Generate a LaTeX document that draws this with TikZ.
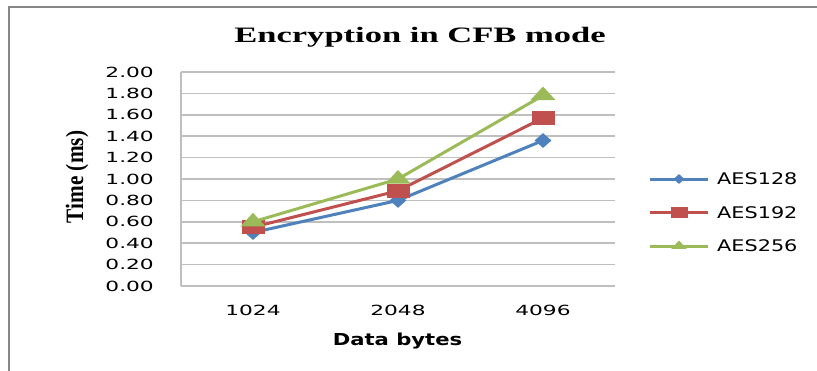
\documentclass[tikz,border=0pt]{standalone}
\usepackage{fontspec}
\setmainfont{Liberation Serif}
\newfontfamily\tickfont[FakeStretch=1.55]{DejaVu Sans}
\newfontfamily\legfont[FakeStretch=1.3]{DejaVu Sans}
\newfontfamily\xtitlefont[FakeStretch=1.28]{DejaVu Sans Bold}
\newfontfamily\titlefont[FakeStretch=1.57]{Liberation Serif Bold}
\newfontfamily\ytitlefont[FakeStretch=0.85]{Liberation Serif Bold}
\usepackage{tikz}
\usetikzlibrary{
arrows.meta,
positioning,
shapes.geometric
}
\definecolor{aesblue}{HTML}{4F81BD}
\definecolor{aesred}{HTML}{C0504D}
\definecolor{aesgreen}{HTML}{9BBB59}
\definecolor{gridgray}{HTML}{BFBFBF}
\definecolor{framegray}{HTML}{878787}

\begin{document}
\begin{tikzpicture}[
  x=1pt, y=-1pt,
  series/.style={line width=3pt, line join=round},
  grid/.style={draw=gridgray, line width=1.6pt},
  tick/.style={font=\tickfont\fontsize{14}{16}\selectfont, inner sep=0pt},
  legtext/.style={font=\legfont\fontsize{16}{18}\selectfont, anchor=west, inner sep=0pt},
  dmark/.style={diamond, fill=aesblue, inner sep=0pt, minimum width=17pt, minimum height=15pt},
  smark/.style={rectangle, fill=aesred, inner sep=0pt, minimum width=23pt, minimum height=14pt},
  tmark/.style={regular polygon, regular polygon sides=3, fill=aesgreen, inner sep=0pt,
                minimum size=18pt, xscale=1.6, transform shape}
]
\useasboundingbox (0,0) rectangle (817,370);
\fill[white] (0,0) rectangle (817,370);

%% Frame of the chart
\draw[framegray, line width=2pt] (9,372) -- (9,7) -- (819,7);

%% Title
\node[font=\titlefont\fontsize{22}{24}\selectfont, anchor=base] (title) at (420,42.5)
  {Encryption in CFB mode};

%% Grid and value axis
\foreach \i/\lab in {0/0.00, 1/0.20, 2/0.40, 3/0.60, 4/0.80, 5/1.00,
                     6/1.20, 7/1.40, 8/1.60, 9/1.80, 10/2.00} {
  \pgfmathsetmacro\gy{286-\i*21.4}
  \draw[grid] (181,\gy) -- (615,\gy);
  \node[tick, anchor=east] (ylab\i) at (154,\gy) {\lab};
}
\draw[grid] (181,72) -- (181,286);

%% Category axis
\foreach \xc/\lab in {253/1024, 398/2048, 543/4096}
  \node[tick] (xlab\lab) at (\xc,310.5) {\lab};

\node[font=\xtitlefont\fontsize{16.5}{18}\selectfont, anchor=base] (xtitle) at (397.5,345)
  {Data bytes};
\node[font=\ytitlefont\fontsize{25}{27}\selectfont, rotate=90] (ytitle) at (77,177)
  {Time (ms)};

%% Data points (y = 286 - value*107)
\coordinate (a1) at (253,232.5);
\coordinate (a2) at (398,200.4);
\coordinate (a3) at (543,140.5);
\coordinate (b1) at (253,227.2);
\coordinate (b2) at (398,190.8);
\coordinate (b3) at (543,118.0);
\coordinate (c1) at (253,221.8);
\coordinate (c2) at (398,179.0);
\coordinate (c3) at (543,95.5);

%% AES128
\draw[series, aesblue] (a1) -- (a2) -- (a3);
\foreach \k in {1,2,3} \node[dmark] (a\k m) at (a\k) {};
%% AES192
\draw[series, aesred] (b1) -- (b2) -- (b3);
\foreach \k in {1,2,3} \node[smark] (b\k m) at (b\k) {};
%% AES256
\draw[series, aesgreen] (c1) -- (c2) -- (c3);
\foreach \k in {1,2,3} \node[tmark] (c\k m) at (c\k) {};

%% Legend
\coordinate (la0) at (650,179);  \coordinate (la1) at (708,179);
\coordinate (lb0) at (650,212.5); \coordinate (lb1) at (708,212.5);
\coordinate (lc0) at (650,246);  \coordinate (lc1) at (708,246);
\draw[series, aesblue] (la0) -- (la1);
\node[dmark, minimum width=11pt, minimum height=10pt] (lam) at (679,179) {};
\node[legtext, right=9pt of la1] (lat) {AES128};
\draw[series, aesred] (lb0) -- (lb1);
\node[smark, minimum width=17pt, minimum height=11pt] (lbm) at (679,212.5) {};
\node[legtext, right=9pt of lb1] (lbt) {AES192};
\draw[series, aesgreen] (lc0) -- (lc1);
\node[tmark, minimum size=11pt] (lcm) at (679,246) {};
\node[legtext, right=9pt of lc1] (lct) {AES256};

\end{tikzpicture}
\end{document}
